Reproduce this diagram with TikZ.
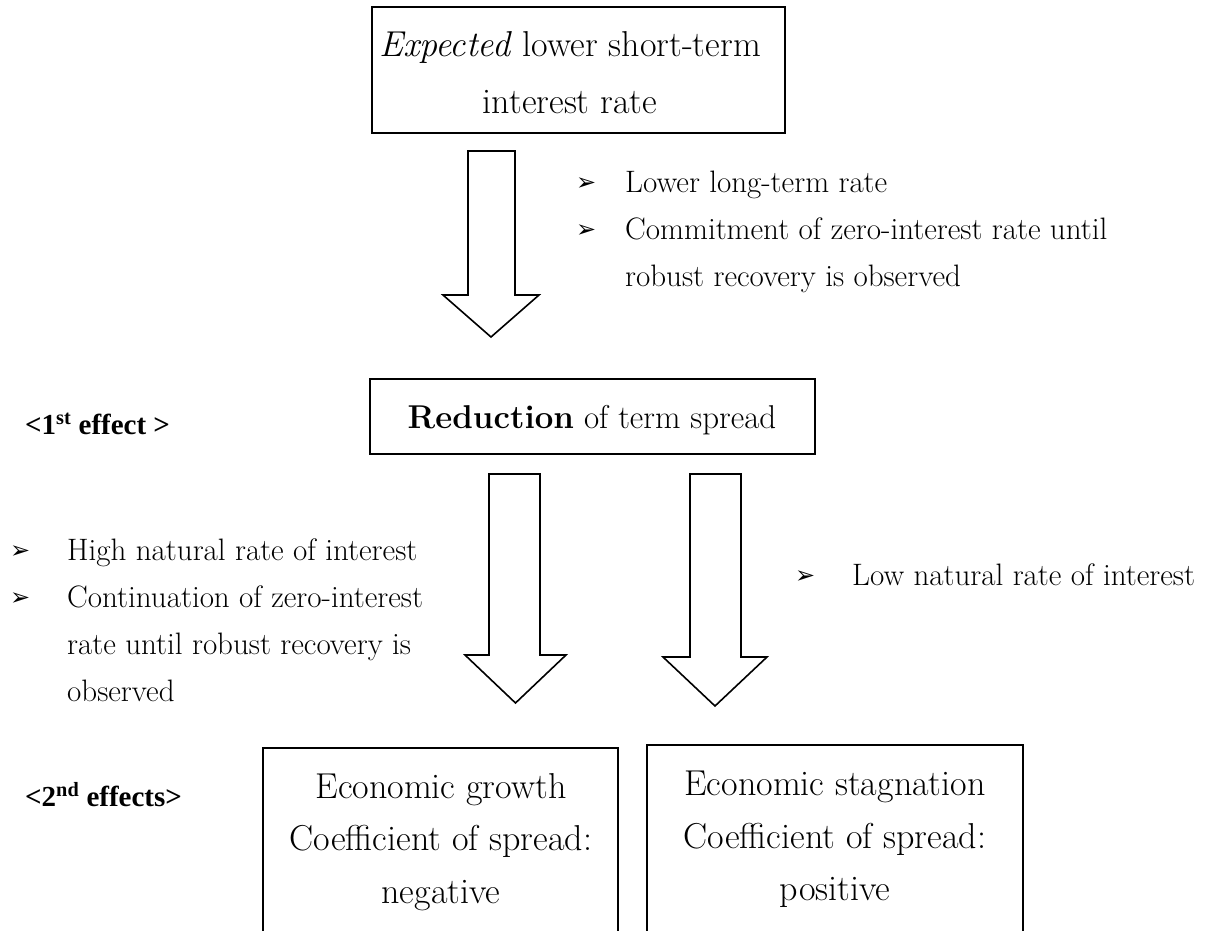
\documentclass[tikz,border=0pt]{standalone}
\usepackage{fontspec}
\newfontfamily\symfont{DejaVu Sans}
\newfontfamily\timesfont{Liberation Serif}
\begin{document}
\begin{tikzpicture}[x=1pt,y=-1pt,
  box/.style={draw,line width=1.8pt,inner sep=0pt},
  blockarrow/.style={draw,line width=1.6pt,fill=white,line join=miter},
  big/.style={font=\fontsize{36}{42}\selectfont,inner sep=0pt,anchor=base},
  mid/.style={font=\fontsize{33}{40}\selectfont,inner sep=0pt,anchor=base},
  bul/.style={font=\fontsize{31}{36}\selectfont,inner sep=0pt,anchor=base west},
  bulletsym/.style={font=\symfont\fontsize{24}{28}\selectfont,inner sep=0pt,anchor=base west},
  lbl/.style={font=\timesfont\bfseries\fontsize{29}{34}\selectfont,inner sep=0pt,anchor=base west}]
\useasboundingbox (0,0) rectangle (1211,930);

% top box
\node[box,minimum width=413pt,minimum height=126pt] (top) at (578.5,70) {};
\node[big] (top1) at (570,56) {\textit{Expected} lower short-term};
\node[big] (top2) at (570,113) {interest rate};

% arrow 1
\draw[blockarrow] (468,151) -- (515,151) -- (515,295) -- (539,295) -- (491,337) -- (443,295) -- (468,295) -- cycle;

% bullets right of arrow 1
\node[bulletsym] (b1s) at (576,190) {➢};
\node[bul] (b1) at (625,192) {Lower long-term rate};
\node[bulletsym] (b2s) at (576,237) {➢};
\node[bul] (b2) at (625,239) {Commitment of zero-interest rate until};
\node[bul] (b2b) at (625,286) {robust recovery is observed};

% middle box
\node[box,minimum width=445pt,minimum height=75pt] (midbox) at (592.5,416.5) {};
\node[mid] (midtext) at (592,428) {\textbf{Reduction} of term spread};
\node[lbl] (first) at (25,434) {<1\textsuperscript{st} effect >};

% arrows 2 and 3
\draw[blockarrow] (489,474) -- (540,474) -- (540,655) -- (566,655) -- (515.5,703) -- (465,655) -- (489,655) -- cycle;
\draw[blockarrow] (690,474) -- (741,474) -- (741,657) -- (767,657) -- (715,706) -- (663,657) -- (690,657) -- cycle;

% left bullets
\node[bulletsym] (l1s) at (10,558) {➢};
\node[bul] (l1) at (67,560) {High natural rate of interest};
\node[bulletsym] (l2s) at (10,605) {➢};
\node[bul] (l2) at (67,607) {Continuation of zero-interest};
\node[bul] (l3) at (67,654) {rate until robust recovery is};
\node[bul] (l4) at (67,701) {observed};

% right bullet
\node[bulletsym] (r1s) at (795,583) {➢};
\node[bul] (r1) at (852,585) {Low natural rate of interest};

% second effects
\node[lbl] (second) at (25,806) {<2\textsuperscript{nd} effects>};

% bottom boxes (open at the bottom edge)
\draw[line width=1.8pt] (263,932) -- (263,748) -- (618,748) -- (618,932);
\draw[line width=1.8pt] (647,932) -- (647,745) -- (1023,745) -- (1023,932);
\node[big] (g1) at (441,798) {Economic growth};
\node[big] (g2) at (441,850) {Coefficient of spread:};
\node[big] (g3) at (441,903) {negative};
\node[big] (s1) at (835,795) {Economic stagnation};
\node[big] (s2) at (835,848) {Coefficient of spread:};
\node[big] (s3) at (835,900) {positive};
\end{tikzpicture}
\end{document}
